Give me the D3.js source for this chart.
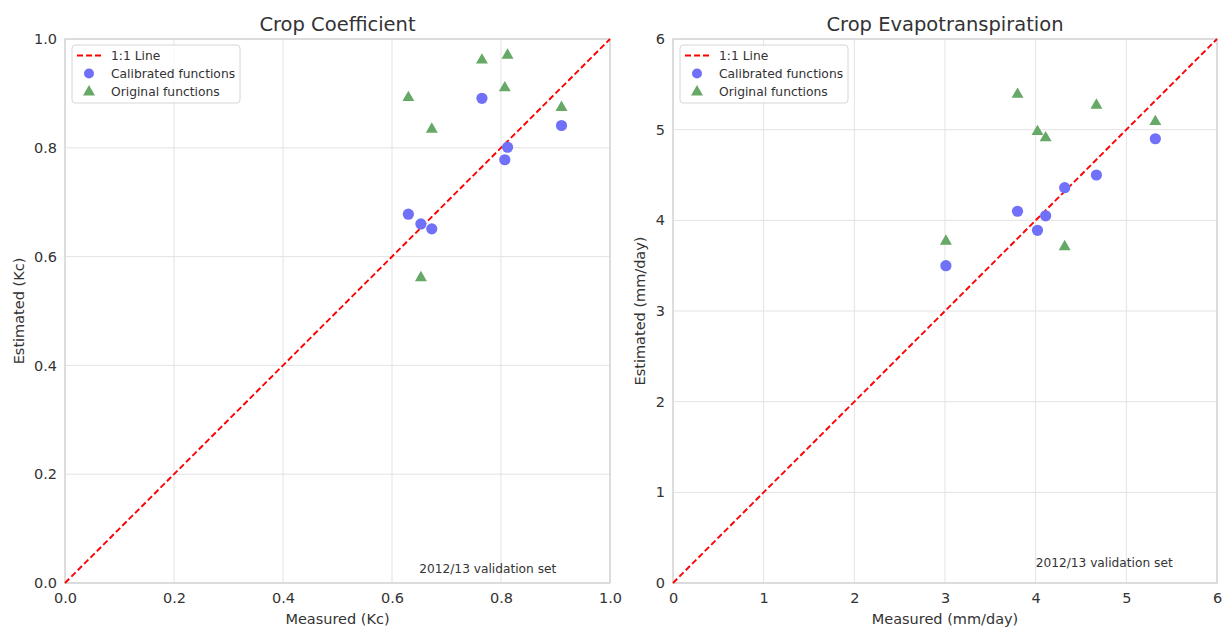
<!DOCTYPE html>
<html>
<head>
<meta charset="utf-8">
<script src="https://cdn.jsdelivr.net/npm/d3@7"></script>
<style>
  body { margin: 0; background: #fff; }
  svg { font-family: "DejaVu Sans", sans-serif; }
  .grid line { stroke: #e3e3e3; stroke-width: 1; }
  .tick text { fill: #333; font-size: 14.5px; }
</style>
</head>
<body>
<div class="chart"></div>
<script>
// Crop coefficient (Kc), 2012/13 validation set
var kcMeasured   = [0.630, 0.653, 0.673, 0.765, 0.807, 0.812, 0.911];
var kcCalibrated = [0.678, 0.660, 0.651, 0.891, 0.778, 0.801, 0.841];
var kcOriginal   = [0.894, 0.563, 0.836, 0.963, 0.912, 0.972, 0.876];

// Crop evapotranspiration (mm/day)
var etMeasured   = [3.01, 3.80, 4.02, 4.11, 4.32, 4.67, 5.32];
var etCalibrated = [3.50, 4.10, 3.89, 4.05, 4.36, 4.50, 4.90];
var etOriginal   = [3.78, 5.40, 4.99, 4.92, 3.72, 5.28, 5.10];

var kcTicks = [0, 0.2, 0.4, 0.6, 0.8, 1.0];
var etTicks = [0, 1, 2, 3, 4, 5, 6];

var legendLabels = ["1:1 Line", "Calibrated functions", "Original functions"];
var noteText = "2012/13 validation set";

var W = 1224, H = 627;
var svg = d3.select(".chart").append("svg")
    .attr("width", W)
    .attr("height", H);

function panel(opt) {
  var x = d3.scaleLinear().domain(opt.domain).range([opt.left, opt.right]);
  var y = d3.scaleLinear().domain(opt.domain).range([opt.bottom, opt.top]);
  var g = svg.append("g");

  // grid
  var grid = g.append("g").attr("class", "grid");
  grid.selectAll(".gx").data(opt.ticks).enter().append("line")
      .attr("x1", d => x(d)).attr("x2", d => x(d))
      .attr("y1", opt.top).attr("y2", opt.bottom);
  grid.selectAll(".gy").data(opt.ticks).enter().append("line")
      .attr("y1", d => y(d)).attr("y2", d => y(d))
      .attr("x1", opt.left).attr("x2", opt.right);

  // axes (tick labels only)
  var xa = g.append("g")
      .attr("transform", "translate(0," + opt.bottom + ")")
      .call(d3.axisBottom(x).tickValues(opt.ticks).tickFormat(opt.fmt).tickSize(0).tickPadding(10));
  var ya = g.append("g")
      .attr("transform", "translate(" + opt.left + ",0)")
      .call(d3.axisLeft(y).tickValues(opt.ticks).tickFormat(opt.fmt).tickSize(0).tickPadding(8));
  xa.select(".domain").remove();
  ya.select(".domain").remove();
  xa.selectAll("text").attr("font-family", "DejaVu Sans");
  ya.selectAll("text").attr("font-family", "DejaVu Sans");

  // frame
  g.append("rect")
      .attr("x", opt.left).attr("y", opt.top)
      .attr("width", opt.right - opt.left).attr("height", opt.bottom - opt.top)
      .attr("fill", "none").attr("stroke", "#cfcfcf").attr("stroke-width", 1.2);

  // 1:1 line
  g.append("line")
      .attr("x1", x(opt.domain[0])).attr("y1", y(opt.domain[0]))
      .attr("x2", x(opt.domain[1])).attr("y2", y(opt.domain[1]))
      .attr("stroke", "#ff0000").attr("stroke-width", 1.9)
      .attr("stroke-dasharray", "6 3");

  var calib = opt.measured.map((m, i) => ({x: m, y: opt.calibrated[i]}));
  var orig = opt.measured.map((m, i) => ({x: m, y: opt.original[i]}));

  g.selectAll(".dot").data(calib).enter().append("circle")
      .attr("cx", d => x(d.x)).attr("cy", d => y(d.y))
      .attr("r", 5.6)
      .attr("fill", "#7070f8");

  var tri = d3.symbol().type(d3.symbolTriangle).size(62);
  g.selectAll(".tri").data(orig).enter().append("path")
      .attr("d", tri)
      .attr("transform", d => "translate(" + x(d.x) + "," + (y(d.y) + 1) + ")")
      .attr("fill", "#66a866");

  // title and labels
  g.append("text")
      .attr("x", (opt.left + opt.right) / 2).attr("y", 31)
      .attr("text-anchor", "middle")
      .style("font-size", "19.5px").style("fill", "#333")
      .text(opt.title);
  g.append("text")
      .attr("x", (opt.left + opt.right) / 2).attr("y", 624)
      .attr("text-anchor", "middle")
      .style("font-size", "14.5px").style("fill", "#333")
      .text(opt.xlabel);
  g.append("text")
      .attr("transform", "translate(" + opt.ylabelX + "," + ((opt.top + opt.bottom) / 2) + ") rotate(-90)")
      .attr("text-anchor", "middle")
      .style("font-size", "14.5px").style("fill", "#333")
      .text(opt.ylabel);

  // annotation (placed in data coordinates, left aligned)
  g.append("text")
      .attr("x", x(opt.note[0]))
      .attr("y", y(opt.note[1]))
      .attr("text-anchor", "start")
      .style("font-size", "12.2px").style("fill", "#333")
      .text(noteText);

  // legend
  var lg = g.append("g").attr("transform", "translate(" + (opt.left + 7) + "," + (opt.top + 6) + ")");
  lg.append("rect")
      .attr("width", 168).attr("height", 58).attr("rx", 3)
      .attr("fill", "rgba(255,255,255,0.8)").attr("stroke", "#d6d6d6");
  lg.append("line")
      .attr("x1", 5).attr("x2", 30).attr("y1", 10.5).attr("y2", 10.5)
      .attr("stroke", "#ff0000").attr("stroke-width", 1.9).attr("stroke-dasharray", "6 3");
  lg.append("circle").attr("cx", 17).attr("cy", 28.5).attr("r", 5).attr("fill", "#7070f8");
  lg.append("path").attr("d", tri).attr("transform", "translate(17,47)").attr("fill", "#66a866");
  lg.selectAll(".lt").data(legendLabels).enter().append("text")
      .attr("x", 39).attr("y", (d, i) => 14.5 + i * 18)
      .style("font-size", "12.3px").style("fill", "#333")
      .text(d => d);
}

panel({
  left: 65, right: 610, top: 39, bottom: 583,
  domain: [0, 1], ticks: kcTicks, fmt: d3.format(".1f"),
  measured: kcMeasured, calibrated: kcCalibrated, original: kcOriginal,
  note: [0.65, 0.018],
  title: "Crop Coefficient", xlabel: "Measured (Kc)", ylabel: "Estimated (Kc)", ylabelX: 24
});

panel({
  left: 673, right: 1217, top: 39, bottom: 583,
  domain: [0, 6], ticks: etTicks, fmt: d3.format("d"),
  measured: etMeasured, calibrated: etCalibrated, original: etOriginal,
  note: [4.0, 0.18],
  title: "Crop Evapotranspiration", xlabel: "Measured (mm/day)", ylabel: "Estimated (mm/day)", ylabelX: 645
});
</script>
</body>
</html>
